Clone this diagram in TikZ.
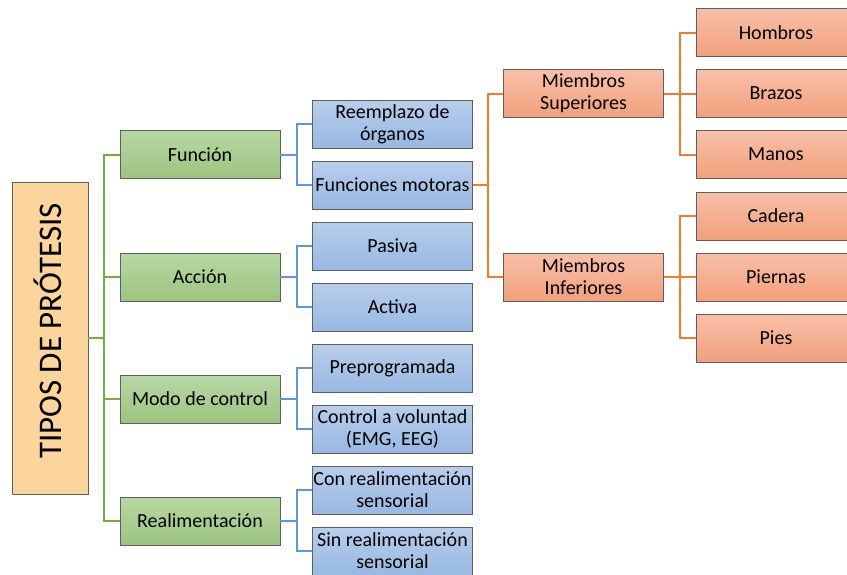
\documentclass[tikz,border=0pt]{standalone}
\usepackage{fontspec}
\setmainfont{Carlito}
\definecolor{gline}{HTML}{70AD47}
\definecolor{bline}{HTML}{5B9BD5}
\definecolor{oline}{HTML}{ED7D31}
\definecolor{boxedge}{HTML}{5F5F5F}
\definecolor{gtop}{RGB}{184,216,163}
\definecolor{gbot}{RGB}{156,196,128}
\definecolor{btop}{RGB}{184,206,236}
\definecolor{bbot}{RGB}{152,184,226}
\definecolor{stop}{RGB}{248,192,168}
\definecolor{sbot}{RGB}{241,160,124}
\definecolor{rootfill}{RGB}{251,213,155}
\tikzset{
  box/.style={draw=boxedge, line width=0.8pt, minimum width=160, minimum height=48,
    inner sep=0pt, align=center, font=\fontsize{20}{22}\selectfont},
  greenbox/.style={box, top color=gtop, bottom color=gbot},
  bluebox/.style={box, top color=btop, bottom color=bbot},
  salmonbox/.style={box, top color=stop, bottom color=sbot},
  glink/.style={draw=gline, line width=2pt},
  blink/.style={draw=bline, line width=2pt},
  olink/.style={draw=oline, line width=2pt},
}

\begin{document}
\begin{tikzpicture}[x=1pt, y=-1pt]
        \useasboundingbox (0,0) rectangle (847,574);
        \clip (0,0) rectangle (847,574);

        % raiz
        \node[draw=boxedge, line width=0.8pt, fill=rootfill,
          minimum width=76, minimum height=312, inner sep=0pt] at (50,338) (tipos) {};
        \node at (48,331) (tipostxt)
          {\rotatebox{90}{\fontsize{33}{34}\selectfont TIPOS DE PRÓTESIS}};

        % nivel 1
        \node[greenbox] at (200,154.5) (funcion) {Función};
        \node[greenbox] at (200,277) (accion) {Acción};
        \node[greenbox] at (200,399) (modo) {Modo de control};
        \node[greenbox] at (200,521) (realim) {Realimentación};

        % nivel 2
        \node[bluebox] at (392.5,124) (reemplazo) {Reemplazo de\\órganos};
        \node[bluebox] at (392.5,185) (motoras) {Funciones motoras};
        \node[bluebox] at (392.5,246) (pasiva) {Pasiva};
        \node[bluebox] at (392.5,307) (activa) {Activa};
        \node[bluebox] at (392.5,368) (prepro) {Preprogramada};
        \node[bluebox] at (392.5,429) (voluntad) {Control a voluntad\\(EMG, EEG)};
        \node[bluebox] at (392.5,490) (conreal) {Con realimentación\\sensorial};
        \node[bluebox] at (392.5,551) (sinreal) {Sin realimentación\\sensorial};

        % miembros
        \node[salmonbox] at (583.5,93.5) (superiores) {Miembros\\Superiores};
        \node[salmonbox] at (583.5,277) (inferiores) {Miembros\\Inferiores};
        \node[salmonbox] at (776,32.5) (hombros) {Hombros};
        \node[salmonbox] at (776,93.5) (brazos) {Brazos};
        \node[salmonbox] at (776,154.5) (manos) {Manos};
        \node[salmonbox] at (776,216) (cadera) {Cadera};
        \node[salmonbox] at (776,277) (piernas) {Piernas};
        \node[salmonbox] at (776,338) (pies) {Pies};

        % buses
        \coordinate (tbus) at (104,338);
        \coordinate (fbus) at (297,154.5);
        \coordinate (abus) at (297,277);
        \coordinate (mbus) at (297,399);
        \coordinate (rbus) at (297,521);
        \coordinate (obus) at (488,185);
        \coordinate (sbus) at (680,93.5);
        \coordinate (ibus) at (680,277);

        \draw[glink] (tipos.east) -- (tbus);
        \draw[glink] (tbus) |- (funcion.west);
        \draw[glink] (tbus) |- (accion.west);
        \draw[glink] (tbus) |- (modo.west);
        \draw[glink] (tbus) |- (realim.west);

        \draw[blink] (funcion.east) -- (fbus);
        \draw[blink] (fbus) |- (reemplazo.west);
        \draw[blink] (fbus) |- (motoras.west);
        \draw[blink] (accion.east) -- (abus);
        \draw[blink] (abus) |- (pasiva.west);
        \draw[blink] (abus) |- (activa.west);
        \draw[blink] (modo.east) -- (mbus);
        \draw[blink] (mbus) |- (prepro.west);
        \draw[blink] (mbus) |- (voluntad.west);
        \draw[blink] (realim.east) -- (rbus);
        \draw[blink] (rbus) |- (conreal.west);
        \draw[blink] (rbus) |- (sinreal.west);

        \draw[olink] (motoras.east) -- (obus);
        \draw[olink] (obus) |- (superiores.west);
        \draw[olink] (obus) |- (inferiores.west);
        \draw[olink] (superiores.east) -- (sbus);
        \draw[olink] (sbus) |- (hombros.west);
        \draw[olink] (sbus) |- (brazos.west);
        \draw[olink] (sbus) |- (manos.west);
        \draw[olink] (inferiores.east) -- (ibus);
        \draw[olink] (ibus) |- (cadera.west);
        \draw[olink] (ibus) |- (piernas.west);
        \draw[olink] (ibus) |- (pies.west);
    \end{tikzpicture}
\end{document}
